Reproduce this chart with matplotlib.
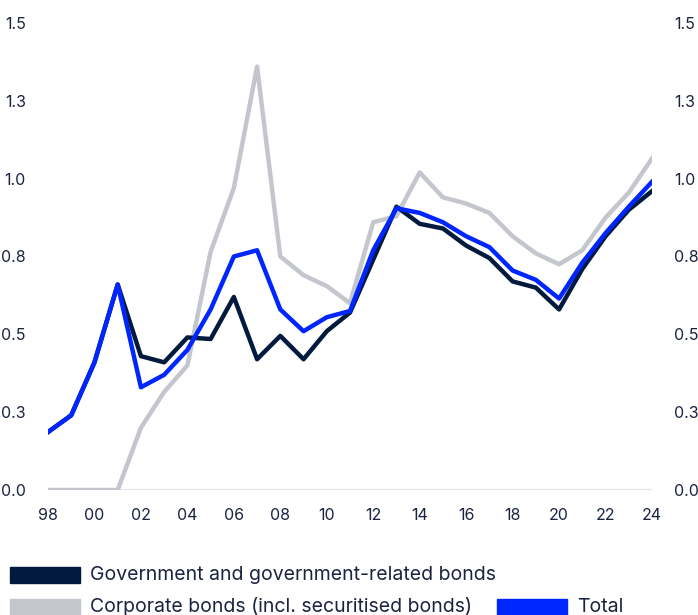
import matplotlib.pyplot as plt
from matplotlib.patches import Rectangle
import numpy as np

plt.rcParams['font.family'] = ['Inter', 'DejaVu Sans']

# Data
years = np.arange(1998, 2025)
government = [0.186, 0.24, 0.41, 0.66, 0.43, 0.41, 0.49, 0.485, 0.62, 0.42,
              0.495, 0.42, 0.51, 0.57, 0.74, 0.91, 0.855, 0.84, 0.785, 0.745,
              0.67, 0.65, 0.58, 0.71, 0.815, 0.90, 0.96]
corporate = [0.0, 0.0, 0.0, 0.0, 0.20, 0.315, 0.40, 0.765, 0.97, 1.36,
             0.75, 0.69, 0.655, 0.60, 0.86, 0.88, 1.02, 0.94, 0.92, 0.89,
             0.815, 0.76, 0.725, 0.77, 0.875, 0.955, 1.065]
total = [0.186, 0.24, 0.41, 0.66, 0.33, 0.37, 0.45, 0.58, 0.75, 0.77,
         0.58, 0.51, 0.555, 0.575, 0.77, 0.905, 0.89, 0.86, 0.815, 0.78,
         0.705, 0.675, 0.615, 0.73, 0.825, 0.91, 0.99]
yticks = [0.0, 0.25, 0.5, 0.75, 1.0, 1.25, 1.5]
ytick_labels = ['0.0', '0.3', '0.5', '0.8', '1.0', '1.3', '1.5']
xticks = list(range(1998, 2025, 2))
labels = ['Government and government-related bonds',
          'Corporate bonds (incl. securitised bonds)', 'Total']

c_gov, c_corp, c_tot = '#021a3d', '#c3c6cc', '#0026ff'
txt = '#1a2440'

fig = plt.figure(figsize=(6.98, 6.15), dpi=100)
ax = fig.add_axes([48 / 698, 125 / 615, 604 / 698, 467 / 615])

ax.axhline(0, color='#e4e6ea', lw=1.5, zorder=1)
ax.plot(years, corporate, color=c_corp, lw=3.2, zorder=2)
ax.plot(years, government, color=c_gov, lw=3.2, zorder=3)
ax.plot(years, total, color=c_tot, lw=3.2, zorder=4)

ax.set_xlim(1998, 2024)
ax.set_ylim(0, 1.5)
ax.set_xticks(xticks)
ax.set_xticklabels(['%02d' % (y % 100) for y in xticks])
ax.set_yticks(yticks)
ax.set_yticklabels(ytick_labels)
ax.tick_params(axis='both', length=0, labelsize=11.5, colors=txt)
ax.tick_params(axis='y', pad=16, labelright=True)
ax.tick_params(axis='x', pad=13)
for s in ax.spines.values():
    s.set_visible(False)

# legend drawn manually
W, H = 698.0, 615.0
items = [(10, 575, c_gov, labels[0]), (10, 607, c_corp, labels[1]), (497, 607, c_tot, labels[2])]
for x0, yc, col, lab in items:
    fig.patches.append(Rectangle((x0 / W, 1 - (yc + 8) / H), 70 / W, 16 / H,
                                 transform=fig.transFigure, color=col))
    fig.text((x0 + 80) / W, 1 - yc / H, lab,
             fontsize=14, color=txt, va='center', ha='left')

fig.savefig('out.png', dpi=100)
